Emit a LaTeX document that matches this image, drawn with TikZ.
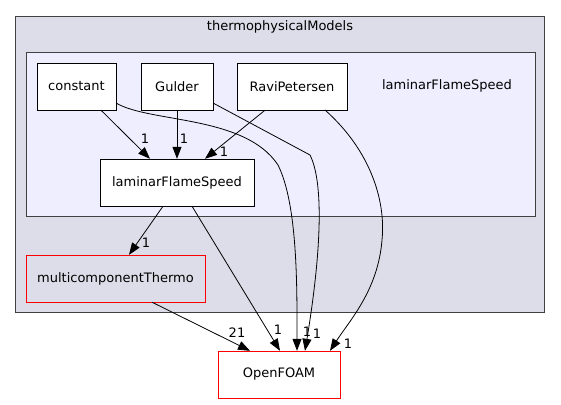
\documentclass[tikz,border=0pt]{standalone}
\usepackage{fontspec}
\setmainfont{DejaVu Sans}
\usetikzlibrary{arrows.meta}
\definecolor{outerfill}{HTML}{DDDDE9}
\definecolor{innerfill}{HTML}{EEEEFF}
\definecolor{frame}{HTML}{404040}
\tikzset{
  box/.style={draw=black, fill=white, inner sep=0pt, font=\fontsize{13}{15}\selectfont},
  redbox/.style={draw=red, inner sep=0pt, font=\fontsize{13}{15}\selectfont},
  edge/.style={-{Triangle[length=12pt,width=9pt]}, black, line width=0.8pt},
  lbl/.style={font=\fontsize{13}{15}\selectfont, inner sep=0pt},
}
\begin{document}
\begin{tikzpicture}[x=1pt,y=-1pt]
\useasboundingbox (0,0) rectangle (561,404);
\draw[frame, fill=outerfill, line width=0.8pt] (15.5,16.5) rectangle (544.5,312.5);
\node[lbl] (title) at (280,27) {thermophysicalModels};
\draw[frame, fill=innerfill, line width=0.8pt] (26.5,52.5) rectangle (535.5,216.5);
\node[lbl] (innertitle) at (447,86) {laminarFlameSpeed};

\node[box, minimum width=79pt, minimum height=47pt] (constant) at (76.5,86.5) {constant};
\node[box, minimum width=72pt, minimum height=47pt] (gulder) at (177,86.5) {Gulder};
\node[box, minimum width=110pt, minimum height=47pt] (ravi) at (292,86.5) {RaviPetersen};
\node[box, minimum width=154pt, minimum height=47pt] (lfs) at (177,182.5) {laminarFlameSpeed};
\node[redbox, fill=outerfill, minimum width=179pt, minimum height=47pt] (mct) at (115.5,278.5) {multicomponentThermo};
\node[redbox, fill=white, minimum width=122pt, minimum height=47pt] (of) at (279,374.5) {OpenFOAM};

\draw[edge] (constant.south -| 101,0) -- (lfs.north -| 150,0);
\node[lbl] at (145,139) {1};
\draw[edge] (gulder.south) -- (lfs.north);
\node[lbl] at (184,139) {1};
\draw[edge] (ravi.south -| 265,0) -- (lfs.north -| 205,0);
\node[lbl] at (224,152) {1};

\draw[edge] (lfs.south -| 163,0) -- (mct.north -| 129,0);
\node[lbl] at (146,243) {1};
\draw[edge] (lfs.south -| 192,0) -- (of.north -| 280,0);
\node[lbl] at (278,330) {1};
\draw[edge] (mct.south -| 152,0) -- (of.north -| 250,0);
\node[lbl] at (237,333) {21};

\coordinate (c1) at (116,103);
\draw[edge] (c1) .. controls (150,123) and (245,115) .. (278,165) .. controls (298,205) and (297,290) .. (of.north -| 297,0);
\node[lbl] at (307,332) {1};
\coordinate (g1) at (213,103);
\coordinate (g2) at (310,155);
\draw[edge] (g1) -- (g2) .. controls (325,185) and (320,260) .. (of.north -| 305,0);
\node[lbl] at (317,334) {1};
\coordinate (r1) at (325,110);
\draw[edge] (r1) .. controls (370,150) and (386,200) .. (382,240) .. controls (378,290) and (350,320) .. (of.north -| 330,0);
\node[lbl] at (348,344) {1};
\end{tikzpicture}
\end{document}
